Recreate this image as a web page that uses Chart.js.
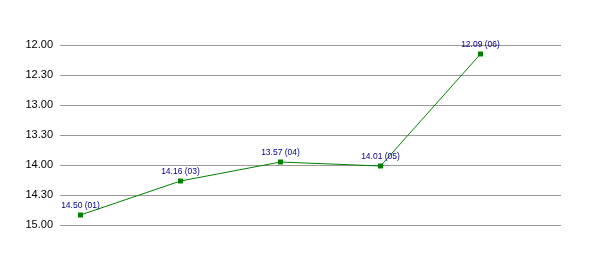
<!DOCTYPE html>
<html>
<head>
<meta charset="utf-8">
<script src="https://cdn.jsdelivr.net/npm/chart.js@4/dist/chart.umd.min.js"></script>
<style>
html,body{margin:0;padding:0;background:#fff;}
#wrap{width:600px;height:255px;position:relative;}
</style>
</head>
<body>
<div id="wrap"><canvas id="c" width="600" height="255"></canvas></div>
<script>
// Data (times as mm.ss)
const categories = ['01', '03', '04', '05', '06'];
const times = ['14.50', '14.16', '13.57', '14.01', '12.09'];
const yTicks = ['12.00', '12.30', '13.00', '13.30', '14.00', '14.30', '15.00'];

function toSec(t) { const p = t.split('.'); return parseInt(p[0], 10) * 60 + parseInt(p[1], 10); }
function fmt(s) { const m = Math.floor(s / 60); const r = Math.round(s - m * 60); return m + '.' + (r < 10 ? '0' : '') + r; }

const points = times.map((t, i) => ({ x: i, y: toSec(t) }));
const yMin = toSec(yTicks[0]);
const yMax = toSec(yTicks[yTicks.length - 1]);

const labelPlugin = {
  id: 'pointLabels',
  afterDatasetsDraw(chart) {
    const ctx = chart.ctx;
    const meta = chart.getDatasetMeta(0);
    ctx.save();
    ctx.font = '8.5px "Liberation Sans", Arial, sans-serif';
    ctx.fillStyle = '#000080';
    ctx.textAlign = 'center';
    ctx.textBaseline = 'middle';
    meta.data.forEach((el, i) => {
      ctx.fillText(times[i] + ' (' + categories[i] + ')', el.x, el.y - 9.5);
    });
    ctx.restore();
  }
};

new Chart(document.getElementById('c'), {
  type: 'line',
  data: {
    datasets: [{
      data: points,
      borderColor: '#008000',
      backgroundColor: '#008000',
      borderWidth: 1,
      pointStyle: 'rect',
      pointRadius: 3.5,
      pointBorderWidth: 0,
      pointBackgroundColor: '#008000',
      tension: 0
    }]
  },
  options: {
    responsive: false,
    animation: false,
    devicePixelRatio: 1,
    layout: { padding: { top: 45, right: 39, bottom: 30, left: 0 } },
    plugins: { legend: { display: false }, tooltip: { enabled: false } },
    scales: {
      x: {
        type: 'linear',
        display: false,
        min: -0.205,
        max: 4.805
      },
      y: {
        reverse: true,
        min: yMin,
        max: yMax,
        afterFit(s) { s.width = 60; },
        afterBuildTicks(s) { s.ticks = yTicks.map(t => ({ value: toSec(t) })); },
        ticks: {
          padding: 7,
          color: '#000',
          font: { family: '"Liberation Sans", Arial, sans-serif', size: 11 },
          callback: v => fmt(v)
        },
        grid: { color: '#999999', lineWidth: 1, drawTicks: false },
        border: { display: false }
      }
    }
  },
  plugins: [labelPlugin]
});
</script>
</body>
</html>
